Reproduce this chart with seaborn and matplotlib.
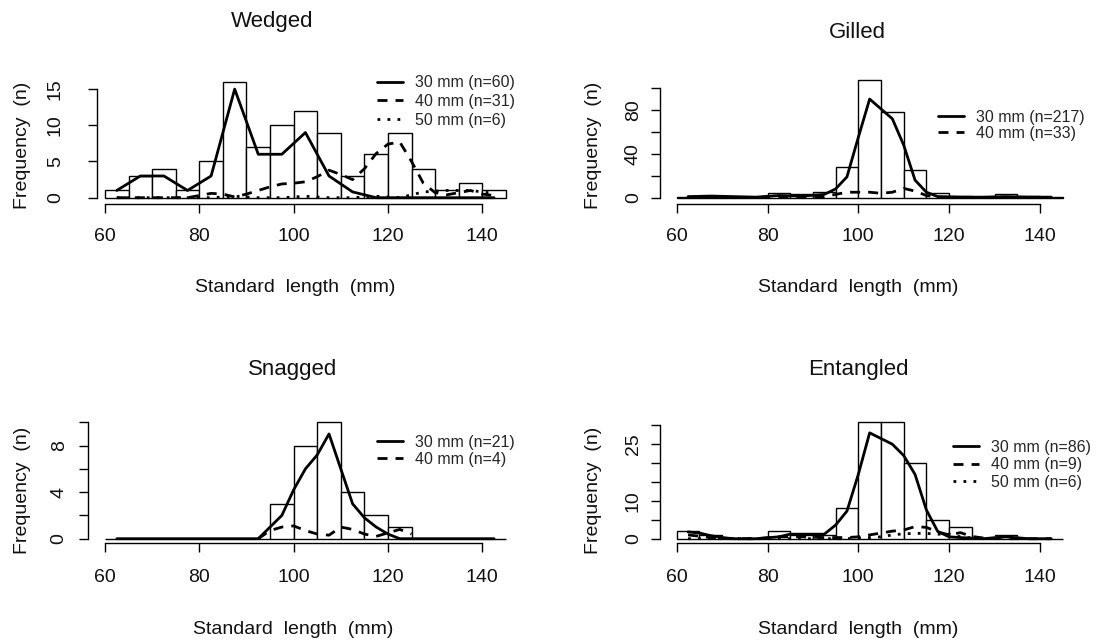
import numpy as np
import matplotlib
matplotlib.use("Agg")
import matplotlib.pyplot as plt
import seaborn as sns

sns.set_theme(style="ticks")
plt.rcParams['font.family'] = ['Liberation Sans', 'DejaVu Sans']

# ---------------- data ----------------
bin_edges = [60, 65, 70, 75, 80, 85, 90, 95, 100, 105, 110, 115, 120, 125, 130, 135, 140, 145]

wedged_counts = [1, 3, 4, 1, 5, 16, 7, 10, 12, 9, 3, 6, 9, 4, 1, 2, 1]
gilled_counts = [1, 1, 1, 1, 4, 3, 5, 28, 107, 78, 25, 4, 2, 1, 3, 2, 1]
snagged_counts = [0, 0, 0, 0, 0, 0, 0, 3, 8, 10, 4, 2, 1, 0, 0, 0, 0]
entangled_counts = [2, 1, 0, 0, 2, 1, 1, 8, 31, 31, 20, 5, 3, 0, 1, 0, 0]

# Wedged lines
w30_x = [62.5, 67.5, 72.5, 77.5, 82.5, 87.5, 92.5, 97.5, 102.5, 107.5, 112.5, 117.5, 122.5, 127.5, 132.5, 137.5, 142.5]
w30_y = [1, 3, 3, 1, 3, 15, 6, 6, 9, 3, 0.8, 0, 0, 0, 0, 0, 0]
w40_x = [62.5, 67.5, 72.5, 77.5, 80, 82.5, 85, 87.5, 90, 92.5, 95, 97.5, 100, 102.5, 105, 107.5, 110,
         112.5, 115, 117.5, 120, 122.5, 125, 127.5, 130, 132.5, 135, 137.5, 140, 142.5]
w40_y = [0, 0, 0, 0, 0.3, 0.6, 0.5, 0.1, 0.5, 1.0, 1.5, 1.9, 2.0, 2.2, 2.9, 3.8, 3.2,
         2.5, 4.0, 6.1, 7.4, 7.7, 5.0, 2.0, 0.7, 0.4, 0.7, 1.0, 0.5, 0.3]
w50_x = [62.5, 67.5, 72.5, 77.5, 82.5, 87.5, 92.5, 97.5, 102.5, 107.5, 112.5, 117.5, 122.5, 127.5, 132.5, 137.5, 142.5]
w50_y = [0, 0, 0, 0, 0, 0.2, 0, 0, 0.2, 0, 0, 0.2, 0, 0.8, 1.0, 1.0, 0.6]

# Gilled lines
g30_x = [62.5, 67.5, 72.5, 77.5, 82.5, 87.5, 92.5, 95, 97.5, 100, 102.5, 105, 107.5, 110, 112.5, 115,
         117.5, 122.5, 127.5, 132.5, 137.5, 142.5]
g30_y = [1, 1.5, 1, 0.5, 2, 1.5, 3, 8, 19, 55, 90, 81, 72, 48, 16, 5, 1, 0.5, 0.5, 1, 0.5, 0.5]
g40_x = [62.5, 67.5, 72.5, 77.5, 82.5, 87.5, 92.5, 95, 97.5, 100, 102.5, 105, 107.5, 110, 112.5, 115,
         117.5, 122.5, 127.5, 132.5, 137.5, 142.5]
g40_y = [0.3, 0.3, 0.3, 0.3, 0.5, 0.5, 1, 3, 5, 5, 5, 4, 5, 8.5, 6, 2, 0.5, 0.3, 0.3, 0.3, 0.3, 0.3]

# Snagged lines
s30_x = [62.5, 67.5, 72.5, 77.5, 82.5, 87.5, 92.5, 95, 97.5, 100, 102.5, 105, 107.5, 112.5, 115,
         117.5, 120, 122.5, 127.5, 132.5, 137.5, 142.5]
s30_y = [0, 0, 0, 0, 0, 0, 0, 1, 2, 4.2, 6, 7.2, 9, 3, 1.8, 1, 0.4, 0, 0, 0, 0, 0]
s40_x = [92.5, 95, 97.5, 100, 102.5, 105, 107.5, 110, 112.5, 115, 117.5, 120, 122.5, 125]
s40_y = [0, 0.7, 1.0, 1.1, 0.7, 0.4, 0.3, 1.0, 0.8, 0.4, 0.2, 0.5, 0.8, 0.4]

# Entangled lines
e30_x = [62.5, 65, 67.5, 70, 72.5, 77.5, 82.5, 85, 87.5, 92.5, 95, 97.5, 100, 102.5, 105, 107.5, 110,
         112.5, 115, 117.5, 120, 122.5, 127.5, 132.5, 137.5, 142.5]
e30_y = [1.8, 1.5, 0.8, 0.3, 0, 0, 0.5, 1.2, 1.2, 1.2, 3.6, 7.3, 17, 28, 26.5, 25, 22,
         17, 7.6, 1.9, 0.5, 0.3, 0, 0.5, 0, 0]
e40_x = [62.5, 67.5, 72.5, 77.5, 82.5, 87.5, 92.5, 97.5, 100, 102.5, 105, 107.5, 110, 112.5, 115,
         117.5, 120, 122.5, 125, 127.5, 132.5, 137.5, 142.5]
e40_y = [1.0, 0.3, 0, 0, 0.5, 0.5, 0.3, 0.3, 0.5, 1.0, 1.5, 2.0, 2.3, 3.2, 3.0,
         1.8, 1.0, 1.6, 0.6, 0.2, 0, 0, 0]
e50_x = [62.5, 72.5, 82.5, 92.5, 97.5, 100, 102.5, 105, 107.5, 110, 112.5, 115, 117.5, 120, 122.5, 125, 127.5]
e50_y = [0, 0, 0, 0, 0, 0.2, 0.3, 0.5, 1.0, 1.3, 1.4, 1.4, 1.2, 1.2, 0.5, 0.2, 0]

titles = ["Wedged", "Gilled", "Snagged", "Entangled"]
x_ticks = [60, 80, 100, 120, 140]
xlabel_text = "Standard  length  (mm)"
ylabel_text = "Frequency  (n)"

# ---------------- layout ----------------
W, H = 1103, 640
fig = plt.figure(figsize=(W / 100, H / 100), dpi=100)
fig.patch.set_facecolor("white")

SOLID = '-'
DASH = (0, (3.6, 2.9))
DOT = (0, (1.0, 2.6))

panels = [
    dict(title=titles[0], counts=wedged_counts,
         lines=[(w30_x, w30_y, SOLID, "30 mm (n=60)"), (w40_x, w40_y, DASH, "40 mm (n=31)"),
                (w50_x, w50_y, DOT, "50 mm (n=6)")],
         x0=105, xs=4.716, xlim=(58.37, 147), y0=197.7, ys=7.24, ylim=(-0.87, 20.8),
         yticks=[0, 5, 10, 15], ylabels=["0", "5", "10", "15"], ypad=17.6, xpad=11,
         title_xy=(272, 27), xlab_xy=(295, 292), ylab_xy=(23, 145), leg_xy=(377, 75.5), lsp=0.22),
    dict(title=titles[1], counts=gilled_counts,
         lines=[(g30_x, g30_y, SOLID, "30 mm (n=217)"), (g40_x, g40_y, DASH, "40 mm (n=33)")],
         x0=676.7, xs=4.54, xlim=(56.32, 148.7), y0=197.7, ys=1.096, ylim=(-5.75, 112),
         yticks=[0, 20, 40, 60, 80, 100], ylabels=["0", "", "40", "", "80", ""], ypad=6.6, xpad=11,
         title_xy=(857, 38), xlab_xy=(858, 292), ylab_xy=(593, 145), leg_xy=(938, 110), lsp=0.05),
    dict(title=titles[2], counts=snagged_counts,
         lines=[(s30_x, s30_y, SOLID, "30 mm (n=21)"), (s40_x, s40_y, DASH, "40 mm (n=4)")],
         x0=105, xs=4.716, xlim=(56.46, 148.5), y0=538.7, ys=11.64, ylim=(-0.4, 10.4),
         yticks=[0, 2, 4, 6, 8, 10], ylabels=["0", "", "4", "", "8", ""], ypad=8.3, xpad=12,
         title_xy=(293, 375), xlab_xy=(293, 634), ylab_xy=(23, 490), leg_xy=(377, 434.5), lsp=0.15),
    dict(title=titles[3], counts=entangled_counts,
         lines=[(e30_x, e30_y, SOLID, "30 mm (n=86)"), (e40_x, e40_y, DASH, "40 mm (n=9)"),
                (e50_x, e50_y, DOT, "50 mm (n=6)")],
         x0=676.7, xs=4.54, xlim=(56.32, 148.7), y0=538.7, ys=3.78, ylim=(-1.22, 31.2),
         yticks=[0, 5, 10, 15, 20, 25, 30], ylabels=["0", "", "10", "", "", "25", ""], ypad=6.6, xpad=12,
         title_xy=(858, 375), xlab_xy=(858, 634), ylab_xy=(593, 490), leg_xy=(953, 440), lsp=0.15),
]

mids = [(a + b) / 2 for a, b in zip(bin_edges[:-1], bin_edges[1:])]

for p in panels:
    left = p["x0"] + (p["xlim"][0] - 60) * p["xs"]
    right = p["x0"] + (p["xlim"][1] - 60) * p["xs"]
    bottom = p["y0"] - p["ylim"][0] * p["ys"]
    top = p["y0"] - p["ylim"][1] * p["ys"]
    ax = fig.add_axes([left / W, 1 - bottom / H, (right - left) / W, (bottom - top) / H])
    ax.set_facecolor("none")

    sns.histplot(x=mids, weights=p["counts"], bins=bin_edges, ax=ax, color="white",
                 edgecolor="black", linewidth=1.0, alpha=1, legend=False)
    for lx, ly, ls, lab in p["lines"]:
        sns.lineplot(x=lx, y=ly, ax=ax, color="black", linewidth=2.0, linestyle=ls,
                     label=lab, legend=False)

    ax.set_xlim(*p["xlim"])
    ax.set_ylim(*p["ylim"])
    ax.set_xlabel("")
    ax.set_ylabel("")
    ax.grid(False)
    for s in ["top", "right"]:
        ax.spines[s].set_visible(False)
    for s in ["left", "bottom"]:
        ax.spines[s].set_color("black")
        ax.spines[s].set_linewidth(1.0)
    ax.spines["left"].set_bounds(p["yticks"][0], p["yticks"][-1])
    ax.spines["bottom"].set_bounds(60, 140)

    ax.set_xticks(x_ticks)
    ax.set_xticklabels([str(t) for t in x_ticks])
    ax.set_yticks(p["yticks"])
    ax.set_yticklabels(p["ylabels"])
    ax.tick_params(axis="both", direction="out", length=6.5, width=1.0, color="black",
                   labelsize=14, labelcolor="#111111")
    ax.tick_params(axis="x", pad=p["xpad"])
    ax.tick_params(axis="y", pad=p["ypad"], labelrotation=90)
    for t in ax.get_yticklabels():
        t.set_va("center")

    handles, labels = ax.get_legend_handles_labels()
    ax.legend(handles, labels, loc="upper left",
              bbox_to_anchor=(p["leg_xy"][0] / W, 1 - p["leg_xy"][1] / H),
              bbox_transform=fig.transFigure, frameon=False, fontsize=11.5,
              handlelength=1.6, handletextpad=0.75, labelspacing=p["lsp"],
              borderpad=0, borderaxespad=0)

    fig.text(p["title_xy"][0] / W, 1 - p["title_xy"][1] / H, p["title"],
             ha="center", va="baseline", fontsize=16, color="#111111")
    fig.text(p["xlab_xy"][0] / W, 1 - p["xlab_xy"][1] / H, xlabel_text,
             ha="center", va="baseline", fontsize=14, color="#111111")
    fig.text(p["ylab_xy"][0] / W, 1 - p["ylab_xy"][1] / H, ylabel_text,
             ha="center", va="center", rotation=90, fontsize=14, color="#111111")

fig.savefig("out.png", dpi=100, facecolor="white")
